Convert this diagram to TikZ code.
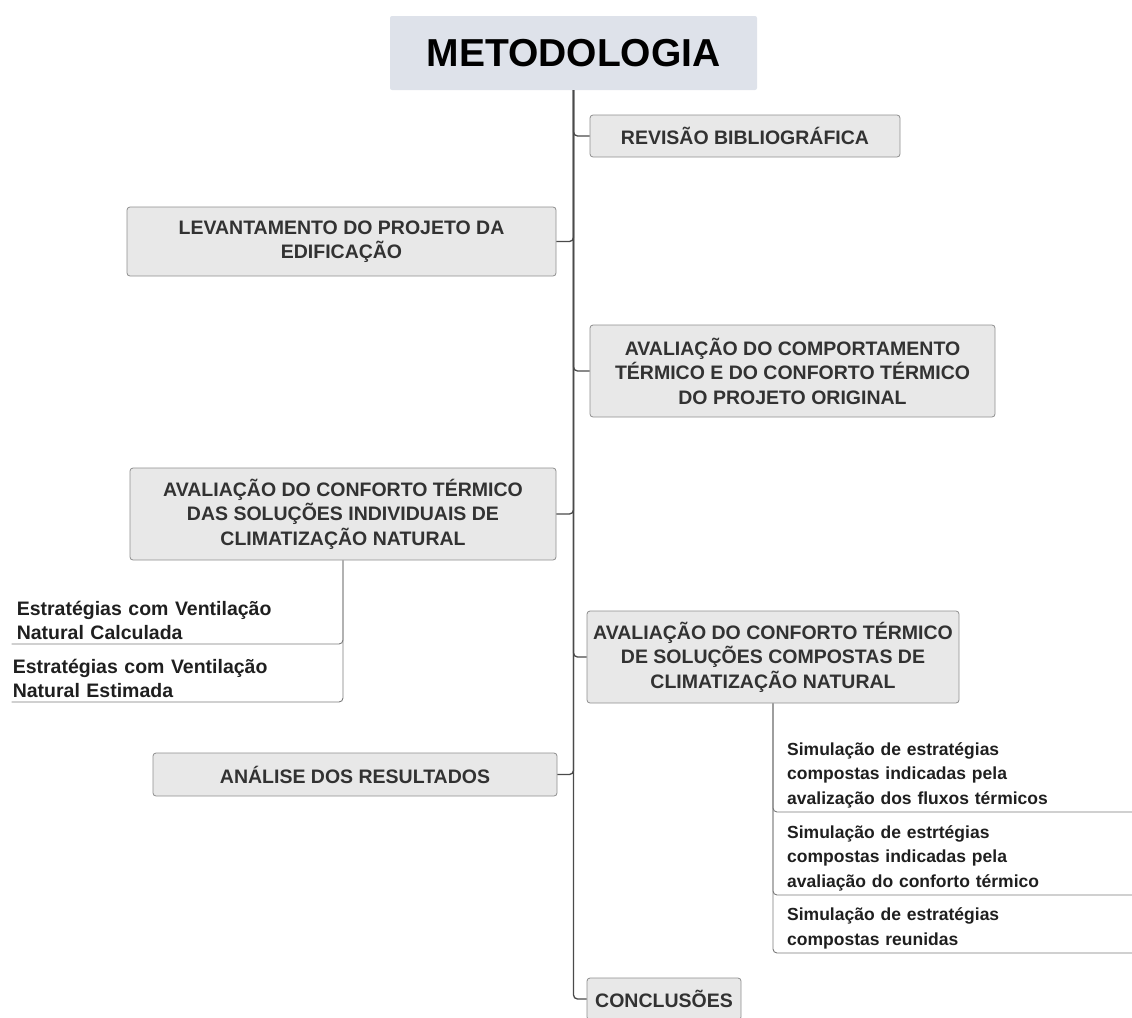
\documentclass[tikz,border=0pt]{standalone}
\usepackage{fontspec}
\setmainfont{Liberation Sans}
\usepackage{xcolor}
\usepackage{tikz}
\usetikzlibrary{positioning}
\definecolor{boxfill}{HTML}{E8E8E8}
\definecolor{boxedge}{HTML}{8E8E8E}
\definecolor{boxtext}{HTML}{323232}
\definecolor{titlefill}{HTML}{DEE2EA}
\definecolor{trunkcol}{HTML}{4A4A4A}
\definecolor{twigcol}{HTML}{7A7A7A}

\begin{document}
\begin{tikzpicture}[
    x=1pt, y=-1pt,
    title_box/.style={fill=titlefill, rounded corners=2pt, inner sep=0pt, font=\bfseries\fontsize{39}{44}\selectfont},
    stage_box/.style={draw=boxedge, fill=boxfill, rounded corners=3pt, line width=0.8pt, align=center, inner sep=2pt, text=boxtext, font=\bfseries\fontsize{19.5}{24.5}\selectfont},
    sub_item/.style={align=left, inner ysep=4pt, text=black!88, font=\bfseries\fontsize{17.5}{24.5}\selectfont},
    left_item/.style={sub_item, font=\bfseries\fontsize{19.5}{24}\selectfont},
    trunk/.style={draw=trunkcol, line width=1.3pt, rounded corners=4pt},
    twig/.style={draw=twigcol, line width=0.9pt, rounded corners=4pt}
]
\useasboundingbox (0,0) rectangle (1132,1017);

\node (title) [title_box, minimum width=367pt, minimum height=74pt] at (573.5,53) {METODOLOGIA};

% right-hand stages
\node (rev) [stage_box, minimum width=310pt, minimum height=42pt] at (745,136) {REVISÃO BIBLIOGRÁFICA};
\node (comp) [stage_box, minimum width=405pt, minimum height=92pt] at (792.5,371)
    {AVALIAÇÃO DO COMPORTAMENTO\\TÉRMICO E DO CONFORTO TÉRMICO\\DO PROJETO ORIGINAL};
\node (compo) [stage_box, minimum width=372pt, minimum height=92pt] at (773,657)
    {AVALIAÇÃO DO CONFORTO TÉRMICO\\DE SOLUÇÕES COMPOSTAS DE\\CLIMATIZAÇÃO NATURAL};
\node (conc) [stage_box, minimum width=154pt, minimum height=42pt] at (664,999) {CONCLUSÕES};

% left-hand stages
\node (lev) [stage_box, minimum width=429pt, minimum height=69pt] at (341.5,241.5)
    {LEVANTAMENTO DO PROJETO DA\\EDIFICAÇÃO};
\node (ind) [stage_box, minimum width=426pt, minimum height=92pt] at (343,514)
    {AVALIAÇÃO DO CONFORTO TÉRMICO\\DAS SOLUÇÕES INDIVIDUAIS DE\\CLIMATIZAÇÃO NATURAL};
\node (anal) [stage_box, minimum width=404pt, minimum height=43pt] at (355,774.5) {ANÁLISE DOS RESULTADOS};

% sub-items
\node (est1) [left_item, anchor=south east, inner xsep=5pt, text width=321pt] at (343,644)
    {Estratégias com Ventilação\\Natural Calculada};
\node (est2) [left_item, anchor=south east, inner xsep=1pt, text width=329pt] at (343,702)
    {Estratégias com Ventilação\\Natural Estimada};
\node (sim1) [sub_item, anchor=south west, inner xsep=14pt, text width=331pt] at (773,812)
    {Simulação de estratégias\\compostas indicadas pela\\avalização dos fluxos térmicos};
\node (sim2) [sub_item, anchor=south west, inner xsep=14pt, text width=331pt] at (773,895)
    {Simulação de estrtégias\\compostas indicadas pela\\avaliação do conforto térmico};
\node (sim3) [sub_item, anchor=south west, inner xsep=14pt, text width=331pt] at (773,953)
    {Simulação de estratégias\\compostas reunidas};

% main trunk
\foreach \n in {rev, comp, compo, conc}
    \draw [trunk] (title.south) |- (\n.west);
\foreach \n in {lev, ind, anal}
    \draw [trunk] (title.south) |- (\n.east);

% sub branches
\draw [twig] (ind.south) |- (est1.south west);
\draw [twig] (ind.south) |- (est2.south west);
\foreach \n in {sim1, sim2, sim3}
    \draw [twig] (compo.south) |- (\n.south east);

\end{tikzpicture}
\end{document}
